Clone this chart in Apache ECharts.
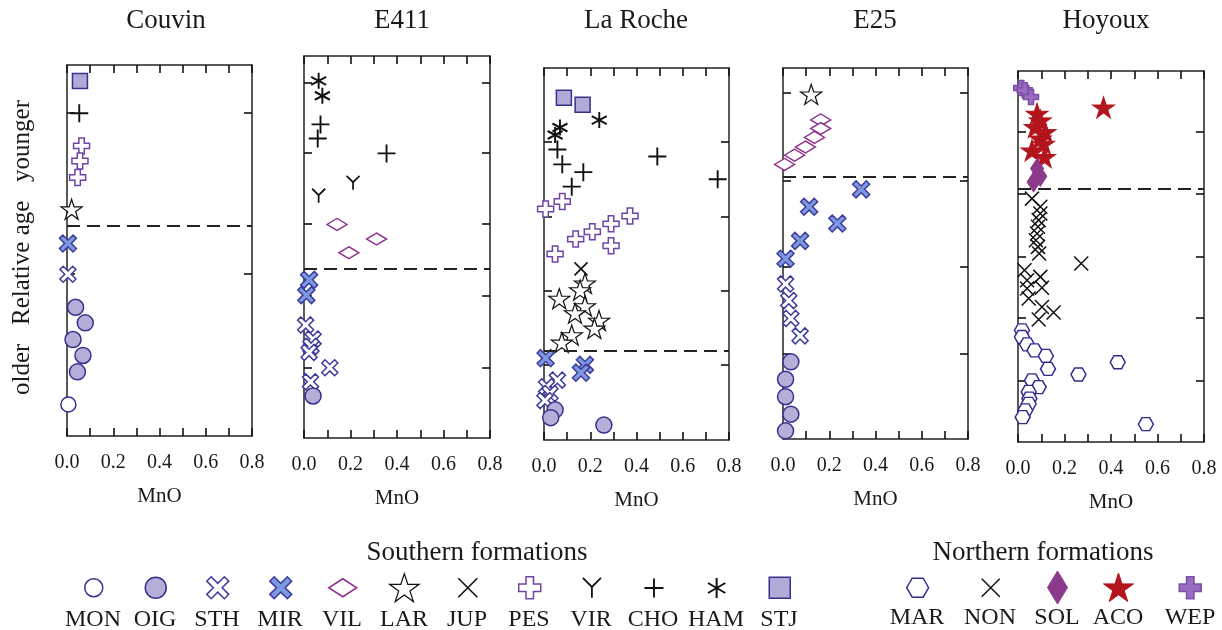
<!DOCTYPE html>
<html><head><meta charset="utf-8">
<script src="https://cdn.jsdelivr.net/npm/echarts@6/dist/echarts.min.js"></script>
<style>html,body{margin:0;padding:0;background:#fff}#c{width:1222px;height:630px}</style>
</head><body><div id="c"></div>
<script>
// ---------------- DATA ----------------
const panels = ['Couvin', 'E411', 'La Roche', 'E25', 'Hoyoux'];
const xTicks = [0, 0.1, 0.2, 0.3, 0.4, 0.5, 0.6, 0.7, 0.8];
const xLabels = [0, 0.2, 0.4, 0.6, 0.8];
// relative age scale: 0 = oldest (bottom), 100 = youngest (top)
const yTicks = [
  [43.7, 87.1],
  [18.3, 37.2, 56.0, 74.6, 93.0],
  [20.2, 40.1, 60.0, 80.2],
  [22.9, 46.4, 69.5, 93.3],
  [16.5, 33.4, 49.9, 66.8, 83.5]
];
const boundary = [56.7, 44.3, 23.9, 70.6, 68.2];
const southern = ['MON', 'OIG', 'STH', 'MIR', 'VIL', 'LAR', 'JUP', 'PES', 'VIR', 'CHO', 'HAM', 'STJ'];
const northern = ['MAR', 'NON', 'SOL', 'ACO', 'WEP'];

// [formation, MnO, relative age]
const couvin = [
  ['STJ', 0.056, 95.7],
  ['CHO', 0.053, 87.0],
  ['PES', 0.063, 78.2], ['PES', 0.056, 74.1], ['PES', 0.046, 69.7],
  ['LAR', 0.020, 61.1],
  ['MIR', 0.004, 51.9],
  ['STH', 0.004, 43.6],
  ['OIG', 0.037, 34.7], ['OIG', 0.079, 30.5], ['OIG', 0.026, 26.0], ['OIG', 0.069, 21.7], ['OIG', 0.045, 17.3],
  ['MON', 0.006, 8.5]
];
const e411 = [
  ['HAM', 0.063, 93.5], ['HAM', 0.079, 89.6],
  ['CHO', 0.071, 82.1], ['CHO', 0.059, 78.4], ['CHO', 0.355, 74.5],
  ['VIR', 0.211, 66.8], ['VIR', 0.063, 63.4],
  ['VIL', 0.142, 55.9], ['VIL', 0.312, 52.1], ['VIL', 0.193, 48.5],
  ['MIR', 0.022, 41.4], ['MIR', 0.010, 37.4],
  ['STH', 0.007, 29.6], ['STH', 0.039, 25.9], ['STH', 0.030, 24.0], ['STH', 0.022, 22.4], ['STH', 0.111, 18.4], ['STH', 0.028, 14.7],
  ['OIG', 0.039, 11.0]
];
const laRoche = [
  ['STJ', 0.086, 92.0], ['STJ', 0.167, 90.1],
  ['HAM', 0.239, 86.0], ['HAM', 0.069, 84.0], ['HAM', 0.048, 82.0],
  ['CHO', 0.058, 78.1], ['CHO', 0.490, 76.2], ['CHO', 0.079, 74.1], ['CHO', 0.170, 72.0], ['CHO', 0.751, 70.1], ['CHO', 0.120, 68.1],
  ['PES', 0.079, 64.1], ['PES', 0.007, 62.1], ['PES', 0.372, 60.2], ['PES', 0.290, 58.1], ['PES', 0.209, 56.0],
  ['PES', 0.137, 54.0], ['PES', 0.290, 52.2], ['PES', 0.048, 50.0],
  ['JUP', 0.160, 46.0],
  ['LAR', 0.177, 42.1], ['LAR', 0.156, 40.3], ['LAR', 0.066, 38.0], ['LAR', 0.177, 36.0], ['LAR', 0.134, 34.1],
  ['LAR', 0.238, 32.1], ['LAR', 0.218, 30.0], ['LAR', 0.120, 28.2], ['LAR', 0.077, 26.2],
  ['MIR', 0.007, 22.0], ['MIR', 0.177, 20.2], ['MIR', 0.160, 18.1],
  ['STH', 0.058, 16.1], ['STH', 0.011, 14.3], ['STH', 0.026, 12.5], ['STH', 0.004, 10.6],
  ['OIG', 0.048, 8.1], ['OIG', 0.029, 6.0], ['OIG', 0.259, 4.0]
];
const e25 = [
  ['LAR', 0.122, 92.9],
  ['VIL', 0.163, 86.0], ['VIL', 0.163, 83.7], ['VIL', 0.136, 81.3], ['VIL', 0.097, 78.7], ['VIL', 0.050, 76.5], ['VIL', 0.007, 74.0],
  ['MIR', 0.338, 67.3], ['MIR', 0.113, 62.6], ['MIR', 0.235, 58.1], ['MIR', 0.074, 53.4], ['MIR', 0.011, 48.6],
  ['STH', 0.011, 41.8], ['STH', 0.025, 37.3], ['STH', 0.034, 32.5], ['STH', 0.074, 27.8],
  ['OIG', 0.034, 20.8], ['OIG', 0.011, 16.1], ['OIG', 0.011, 11.4], ['OIG', 0.034, 6.7], ['OIG', 0.011, 2.2]
];
const hoyoux = [
  ['WEP', 0.014, 95.4], ['WEP', 0.029, 94.8], ['WEP', 0.056, 93.0],
  ['ACO', 0.368, 90.2], ['ACO', 0.082, 88.5], ['ACO', 0.096, 86.7], ['ACO', 0.074, 84.9], ['ACO', 0.117, 83.6],
  ['ACO', 0.096, 81.8], ['ACO', 0.110, 80.4], ['ACO', 0.060, 78.6], ['ACO', 0.114, 76.8],
  ['SOL', 0.082, 73.7], ['SOL', 0.096, 71.6], ['SOL', 0.067, 70.1],
  ['NON', 0.060, 65.6], ['NON', 0.096, 63.4], ['NON', 0.096, 61.6], ['NON', 0.089, 59.8], ['NON', 0.086, 58.0],
  ['NON', 0.082, 56.2], ['NON', 0.077, 54.4], ['NON', 0.086, 52.6], ['NON', 0.091, 50.8], ['NON', 0.272, 48.1],
  ['NON', 0.028, 46.3], ['NON', 0.096, 44.5], ['NON', 0.039, 43.6], ['NON', 0.103, 41.6], ['NON', 0.039, 41.4],
  ['NON', 0.046, 38.7], ['NON', 0.103, 36.4], ['NON', 0.153, 34.9], ['NON', 0.089, 33.0],
  ['MAR', 0.017, 30.1], ['MAR', 0.017, 28.3], ['MAR', 0.039, 26.3], ['MAR', 0.071, 24.7], ['MAR', 0.120, 23.2],
  ['MAR', 0.429, 21.5], ['MAR', 0.129, 19.7], ['MAR', 0.260, 18.2], ['MAR', 0.060, 16.6], ['MAR', 0.089, 14.8],
  ['MAR', 0.046, 13.5], ['MAR', 0.049, 11.7], ['MAR', 0.046, 10.3], ['MAR', 0.031, 8.5], ['MAR', 0.020, 6.7],
  ['MAR', 0.550, 4.8]
];
const panelRows = [couvin, e411, laRoche, e25, hoyoux];

// ---------------- STYLE / LAYOUT ----------------
const FONT = 'Liberation Serif';
const INK = '#1a1a1a';
const gridBox = [[67, 65, 185, 371], [304, 56, 186, 382], [544, 68, 185, 372], [783, 68, 185, 371], [1018, 71, 186, 371]];
const titleX = [166, 402, 636, 875, 1106];
const southX = [93, 155, 217, 280, 342, 404, 467, 529, 591, 653, 716, 779];
const northX = [917, 990, 1057, 1118, 1190];

const XFAT = 'path://M2,0L5,3L8,0L10,2L7,5L10,8L8,10L5,7L2,10L0,8L3,5L0,2Z';
const PLUSFAT = 'path://M3.3,0H6.7V3.3H10V6.7H6.7V10H3.3V6.7H0V3.3H3.3Z';
const STAR = 'path://M50,0L61.23,34.55L97.55,34.55L68.17,55.9L79.39,90.45L50,69.1L20.61,90.45L31.83,55.9L2.45,34.55L38.77,34.55Z';
const XLINE = 'path://M0,0L10,10M10,0L0,10';
const PLUSLINE = 'path://M5,0L5,10M0,5L10,5';
const YLINE = 'path://M0,0L5,5L10,0M5,5L5,11';
const AST = 'path://M5,0L5,10M0.67,2.5L9.33,7.5M9.33,2.5L0.67,7.5';
const HEX = 'path://M2.5,0L7.5,0L10,4.33L7.5,8.66L2.5,8.66L0,4.33Z';
const NOFILL = 'rgba(0,0,0,0)';

const STYLE = {
  MON: {symbol: 'circle', size: 15, leg: [18, 18], color: '#ffffff', border: '#35328f', bw: 1.5},
  OIG: {symbol: 'circle', size: 16, leg: [21, 21], color: '#b4aed8', border: '#35328f', bw: 1.5},
  STH: {symbol: XFAT, size: 16, leg: [22, 22], color: '#ffffff', border: '#3d3c9c', bw: 1.5},
  MIR: {symbol: XFAT, size: 17, leg: [22, 22], color: '#7c98de', border: '#3d3c9c', bw: 1.5},
  VIL: {symbol: 'diamond', size: [20, 12], leg: [28, 18], color: '#ffffff', border: '#8e2f8c', bw: 1.5},
  LAR: {symbol: STAR, size: [21, 20], leg: [30, 28], color: '#ffffff', border: '#111111', bw: 1.2},
  JUP: {symbol: XLINE, size: 13, leg: [19, 19], color: NOFILL, border: '#111111', bw: 1.6},
  PES: {symbol: PLUSFAT, size: 16, leg: [22, 22], color: '#ffffff', border: '#6e45a6', bw: 1.5},
  VIR: {symbol: YLINE, size: [13, 14], leg: [18, 20], color: NOFILL, border: '#111111', bw: 1.8},
  CHO: {symbol: PLUSLINE, size: 18, leg: [19, 19], color: NOFILL, border: '#111111', bw: 1.9},
  HAM: {symbol: AST, size: [15, 16], leg: [18, 20], color: NOFILL, border: '#111111', bw: 2},
  STJ: {symbol: 'rect', size: 15, leg: [21, 21], color: '#b0aad6', border: '#35328f', bw: 1.5},
  MAR: {symbol: HEX, size: [15, 13], leg: [22, 19], color: '#ffffff', border: '#2f2b8c', bw: 1.4},
  NON: {symbol: XLINE, size: 14, leg: [18, 18], color: NOFILL, border: '#111111', bw: 1.5},
  SOL: {symbol: 'diamond', size: [13, 20], leg: [20, 33], color: '#8c3a8c', border: '#8c3a8c', bw: 1},
  ACO: {symbol: STAR, size: [22, 21], leg: [30, 29], color: '#b3151d', border: '#b3151d', bw: 1},
  WEP: {symbol: PLUSFAT, size: 15, leg: [23, 22], color: '#9a6cc0', border: '#7a50a8', bw: 1.5}
};

// ---------------- OPTION BUILD ----------------
const grids = [], xAxes = [], yAxes = [], series = [], titles = [];
const tickStyle = {show: true, inside: true, length: 8, lineStyle: {color: '#111', width: 1.6}};
const lineStyle = {show: true, onZero: false, lineStyle: {color: '#222', width: 1.5}};

panels.forEach((p, i) => {
  const [l, t, w, h] = gridBox[i];
  grids.push({left: l, top: t, width: w, height: h, containLabel: false});
  xAxes.push({
    type: 'value', gridIndex: i, position: 'bottom', min: 0, max: 0.8,
    axisLine: lineStyle, splitLine: {show: false},
    axisTick: Object.assign({customValues: xTicks}, tickStyle),
    axisLabel: {customValues: xLabels, formatter: v => v.toFixed(1), fontFamily: FONT, fontSize: 20, color: INK, margin: 17},
    name: 'MnO', nameLocation: 'middle', nameGap: 50,
    nameTextStyle: {fontFamily: FONT, fontSize: 21, color: INK}
  });
  xAxes.push({
    type: 'value', gridIndex: i, position: 'top', min: 0, max: 0.8,
    axisLine: lineStyle, splitLine: {show: false},
    axisTick: Object.assign({customValues: xTicks}, tickStyle),
    axisLabel: {show: false}
  });
  const yl = {
    type: 'value', gridIndex: i, position: 'left', min: 0, max: 100,
    axisLine: lineStyle, splitLine: {show: false},
    axisTick: Object.assign({customValues: yTicks[i]}, tickStyle),
    axisLabel: {show: false}
  };
  if (i === 0) {
    Object.assign(yl, {
      name: 'older   Relative age   younger', nameLocation: 'middle', nameGap: 32,
      nameTextStyle: {fontFamily: FONT, fontSize: 25, color: INK, padding: [0, 0, 0, 6]}
    });
  }
  yAxes.push(yl);
  yAxes.push({
    type: 'value', gridIndex: i, position: 'right', min: 0, max: 100,
    axisLine: lineStyle, splitLine: {show: false},
    axisTick: Object.assign({customValues: yTicks[i]}, tickStyle),
    axisLabel: {show: false}
  });
  titles.push({text: p, left: titleX[i], top: 7, textAlign: 'center', padding: 0,
    textStyle: {fontFamily: FONT, fontSize: 27, fontWeight: 'normal', color: INK}});

  // age boundary (dashed)
  series.push({
    type: 'scatter', name: 'boundary' + i, xAxisIndex: 2 * i, yAxisIndex: 2 * i, data: [],
    silent: true,
    markLine: {silent: true, symbol: ['none', 'none'], label: {show: false}, animation: false,
      lineStyle: {type: [13, 7], color: '#222', width: 2},
      emphasis: {disabled: true},
      data: [{yAxis: boundary[i]}]}
  });

  const groups = {}, order = [];
  panelRows[i].forEach(([f, x, y]) => {
    if (!groups[f]) { groups[f] = []; order.push(f); }
    groups[f].push([x, y]);
  });
  order.forEach(f => {
    const s = STYLE[f];
    series.push({
      type: 'scatter', name: f, xAxisIndex: 2 * i, yAxisIndex: 2 * i, data: groups[f],
      symbol: s.symbol, symbolSize: s.size, z: 3,
      itemStyle: {color: s.color, borderColor: s.border, borderWidth: s.bw, opacity: 1},
      emphasis: {disabled: true}
    });
  });
});

titles.push({text: 'Southern formations', left: 477, top: 539, textAlign: 'center', padding: 0,
  textStyle: {fontFamily: FONT, fontSize: 27, fontWeight: 'normal', color: INK}});
titles.push({text: 'Northern formations', left: 1043, top: 539, textAlign: 'center', padding: 0,
  textStyle: {fontFamily: FONT, fontSize: 27, fontWeight: 'normal', color: INK}});

const legendDefs = southern.map((n, k) => ({name: n, cx: southX[k], cy: 587, ty: 620}))
  .concat(northern.map((n, k) => ({name: n, cx: northX[k], cy: 587, ty: 618})));

const legends = legendDefs.map(d => {
  const s = STYLE[d.name];
  const [w, h] = s.leg;
  return {
    data: [{name: d.name, itemStyle: {color: s.color, borderColor: s.border, borderWidth: s.bw}}],
    left: d.cx - w / 2, top: d.cy - h / 2, itemWidth: w, itemHeight: h,
    padding: 0, itemGap: 0, formatter: () => '', textStyle: {fontSize: 1}
  };
});

const graphics = legendDefs.map(d => ({
  type: 'text', x: d.cx, y: d.ty, silent: true,
  style: {text: d.name, fontFamily: FONT, fontSize: 24, fill: INK, align: 'center', verticalAlign: 'middle'}
}));

const chart = echarts.init(document.getElementById('c'), null, {renderer: 'canvas'});
chart.setOption({
  animation: false,
  backgroundColor: '#ffffff',
  title: titles,
  grid: grids,
  xAxis: xAxes,
  yAxis: yAxes,
  legend: legends,
  graphic: graphics,
  series: series
});
</script>
</body></html>
